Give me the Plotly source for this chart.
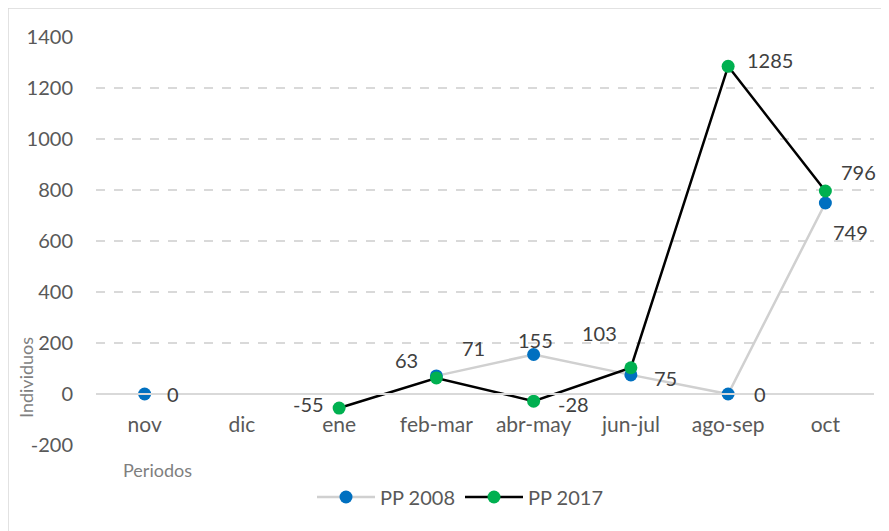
import plotly.graph_objects as go

categories = ["nov", "dic", "ene", "feb-mar", "abr-may", "jun-jul", "ago-sep", "oct"]
pp2008 = [0, None, None, 71, 155, 75, 0, 749]
pp2017 = [None, None, -55, 63, -28, 103, 1285, 796]
y_ticks = [-200, 0, 200, 400, 600, 800, 1000, 1200, 1400]
y_ticktext = ["-200", "0", "200", "400", "600", "800", "1000", "1200", "1400"]

# label offsets in pixels (dx, dy) relative to each point
off2008 = [(28, 0), None, None, (37, -28), (2, -14), (35, 3), (32, 0), (25, 29)]
off2017 = [None, None, (-31, -4), (-30, -18), (40, 3), (-31, -35), (42, -6), (33, -19)]

FONT = "Lato"
OFF = 8  # page body margin
W, H = 889, 531
L, T = 96 - OFF, 37 - OFF
PW, PH = 778, 408
R, B = W - L - PW, H - T - PH


def px(xv):
    return (xv - OFF - L) / PW


def py(yv):
    return (T + PH - (yv - OFF)) / PH


fig = go.Figure()
fig.add_trace(go.Scatter(
    x=categories, y=pp2008, name="PP 2008", mode="lines+markers",
    line=dict(color="#d0d0d0", width=2.5),
    marker=dict(color="#0070C0", size=13),
    connectgaps=False, cliponaxis=False,
))
fig.add_trace(go.Scatter(
    x=categories, y=pp2017, name="PP 2017", mode="lines+markers",
    line=dict(color="#000000", width=2.5),
    marker=dict(color="#00B050", size=13),
    connectgaps=False, cliponaxis=False,
))

annotations = []
for vals, offs in ((pp2008, off2008), (pp2017, off2017)):
    for c, v, o in zip(categories, vals, offs):
        if v is None:
            continue
        annotations.append(dict(
            x=c, y=v, xref="x", yref="y", text=f"{v}", showarrow=False,
            xanchor="center", yanchor="middle", xshift=o[0], yshift=-o[1],
            font=dict(family=FONT, size=20, color="#404040")))

annotations += [
    dict(text="Individuos", xref="paper", yref="paper",
         x=px(26), y=py(378), xanchor="center", yanchor="middle",
         textangle=-90, showarrow=False,
         font=dict(family=FONT, size=18, color="#7f7f7f")),
    dict(text="Periodos", xref="paper", yref="paper",
         x=px(157), y=py(470), xanchor="center", yanchor="middle",
         showarrow=False, font=dict(family=FONT, size=18, color="#7f7f7f")),
]

ymin, ymax = -200, 1400
zero_pos = (0 - ymin) / (ymax - ymin)

fig.update_layout(
    width=W, height=H,
    margin=dict(l=L, r=R, t=T, b=B, autoexpand=False),
    paper_bgcolor="white", plot_bgcolor="white",
    font=dict(family=FONT, size=20, color="#595959"),
    showlegend=True,
    legend=dict(orientation="h", x=px(460), xanchor="center",
                y=py(497), yanchor="middle", itemwidth=58,
                font=dict(family=FONT, size=20, color="#595959"),
                traceorder="normal"),
    xaxis=dict(type="category", categoryorder="array", categoryarray=categories,
               range=[-0.5, 7.5], anchor="free", position=zero_pos,
               showline=True, linecolor="#d9d9d9", linewidth=1.5,
               showgrid=False, zeroline=False, ticks="", automargin=False,
               ticklabelstandoff=12,
               tickfont=dict(family=FONT, size=21, color="#595959")),
    yaxis=dict(range=[ymin, ymax], tickvals=y_ticks, ticktext=y_ticktext, showgrid=True,
               gridcolor="#d9d9d9", griddash="dash", gridwidth=1.5,
               zeroline=False, showline=False, ticks="", automargin=False,
               ticklabelstandoff=22,
               tickfont=dict(family=FONT, size=20, color="#595959")),
    annotations=annotations,
    shapes=[
        dict(type="rect", xref="paper", yref="paper",
             x0=px(8), x1=px(905), y0=py(545), y1=py(8),
             line=dict(color="#d9d9d9", width=1.5), layer="below"),
    ],
)

fig.write_html("out.html")
